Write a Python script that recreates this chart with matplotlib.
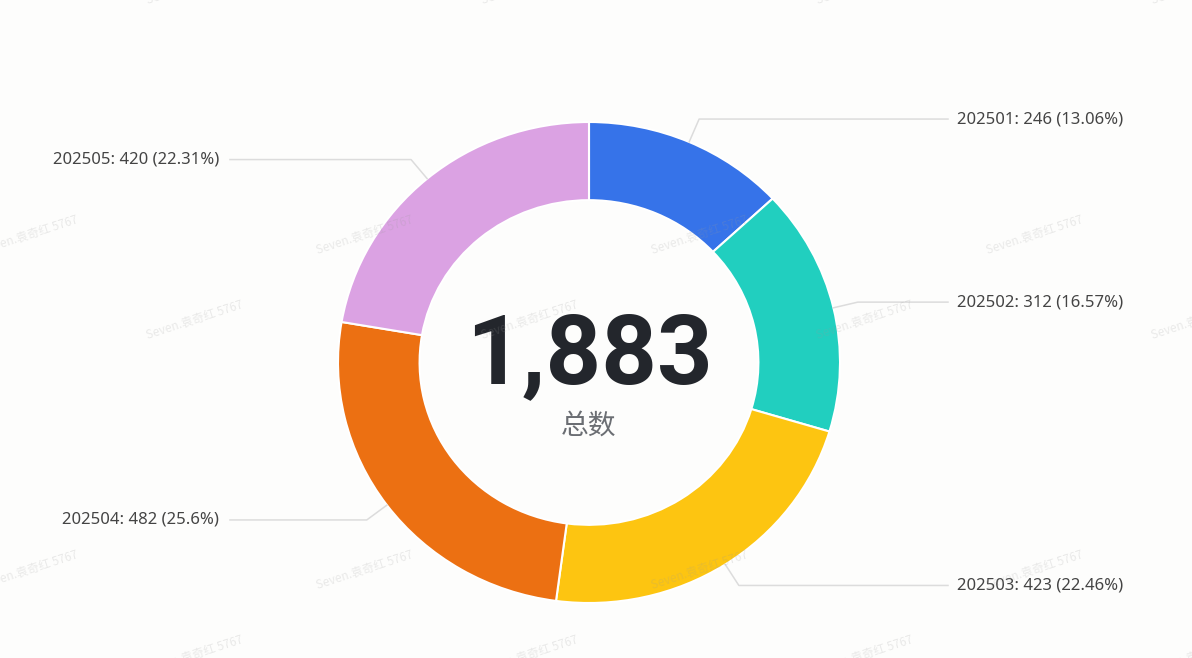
import matplotlib.pyplot as plt
import numpy as np

# data
months = ["202501", "202502", "202503", "202504", "202505"]
counts = [246, 312, 423, 482, 420]
colors = ["#3673E9", "#21CFBF", "#FDC511", "#EC7012", "#DBA2E3"]
center_label = "总数"
watermark = "Seven.袁奇红 5767"

# canvas in pixels, ring centre and radii
W, H = 1192, 658
CX, CY = 589, 362.5
RX, RY = 251, 240.5
bg = "#fdfdfc"

plt.rcParams["font.family"] = ["Noto Sans", "Noto Sans CJK SC", "DejaVu Sans"]


def to_data(xp, yp):
    return (xp - CX) / RX, (CY - yp) / RY


def percents(vals, digits=2):
    # largest remainder, so the labels sum to 100
    scale = 10 ** digits
    raw = np.array(vals) / sum(vals) * 100 * scale
    fl = np.floor(raw)
    left = int(round(100 * scale - fl.sum()))
    order = np.argsort(-(raw - fl))
    fl[order[:left]] += 1
    return fl / scale


fig = plt.figure(figsize=(W / 100, H / 100), dpi=100, facecolor=bg)
ax = fig.add_axes([0, 0, 1, 1])
ax.set_facecolor(bg)

ax.pie(counts, colors=colors, startangle=90, counterclock=False, radius=1,
       wedgeprops=dict(width=0.325, edgecolor="white", linewidth=1.5))
ax.set_aspect("auto")
ax.set_xlim(-CX / RX, (W - CX) / RX)
ax.set_ylim(-(H - CY) / RY, CY / RY)
ax.axis("off")

# leader lines + labels
total = sum(counts)
pcts = percents(counts)
cum = 0
for m, v, p in zip(months, counts, pcts):
    mid = np.deg2rad(90 - (cum + v / 2) / total * 360)
    cum += v
    x0, y0 = np.cos(mid), np.sin(mid)
    ex, ey = x0 * (1 + 25 / RX), y0 * (1 + 25 / RY)
    if x0 >= 0:
        endx = to_data(948, 0)[0]
        tx, ha = to_data(957, 0)[0], "left"
    else:
        endx = to_data(230, 0)[0]
        tx, ha = to_data(219, 0)[0], "right"
    ax.plot([x0, ex, endx], [y0, ey, ey], color="#dcdcdc", lw=1.1, zorder=1)
    ax.text(tx, ey, f"{m}: {v} ({p:g}%)", ha=ha, va="center",
            fontsize=12, color="#444444")

# centre total
ax.text(0, to_data(0, 357)[1], f"{total:,}", ha="center", va="center",
        fontsize=70, fontweight="bold", family="Roboto", color="#23262c")
ax.text(0, to_data(0, 426)[1], center_label, ha="center", va="center",
        fontsize=20, family=["Noto Sans CJK SC", "DejaVu Sans"], color="#6b6e73")

# faint watermark grid
for row0, col0 in [(235, 30), (320, 195)]:
    for yp in range(row0 - 335, H + 60, 335):
        for xp in range(col0 - 335, W + 120, 335):
            ax.text(*to_data(xp, yp), watermark, ha="center", va="center",
                    rotation=18, fontsize=8.5, color="#9a9a9a", alpha=0.2,
                    family=["Noto Sans CJK SC", "DejaVu Sans"], zorder=5,
                    clip_on=True)

fig.savefig("out.png", dpi=100, facecolor=bg)
